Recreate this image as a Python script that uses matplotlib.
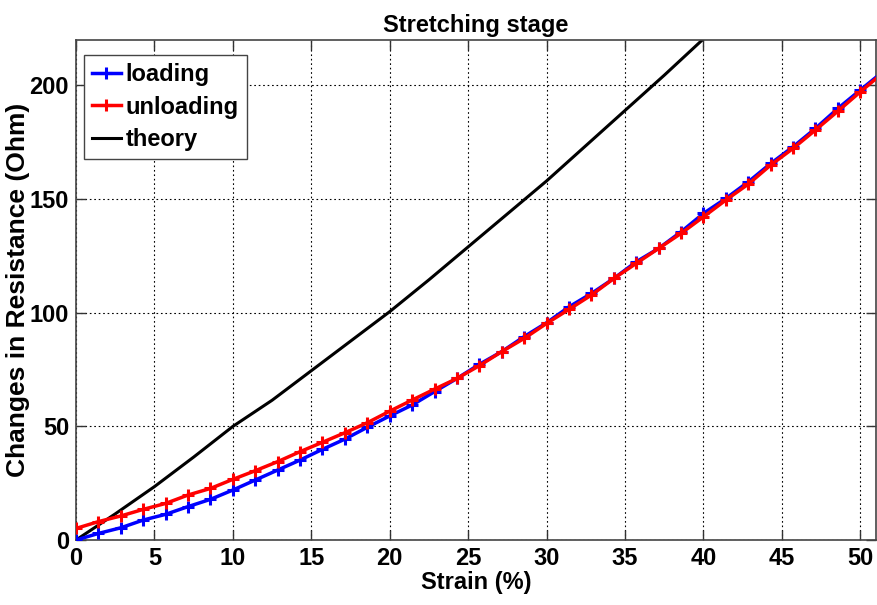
import matplotlib
matplotlib.use("Agg")
import matplotlib.pyplot as plt

STRAIN = [0.0, 1.43, 2.86, 4.29, 5.71, 7.14, 8.57, 10.0, 11.43, 12.86, 14.29, 15.71,
          17.14, 18.57, 20.0, 21.43, 22.86, 24.29, 25.71, 27.14, 28.57, 30.0, 31.43,
          32.86, 34.29, 35.71, 37.14, 38.57, 40.0, 41.43, 42.86, 44.29, 45.71, 47.14,
          48.57, 50.0, 51.43]
LOADING = [0.0, 2.9, 5.4, 8.8, 11.3, 14.7, 17.9, 22.0, 26.4, 30.8, 35.2, 39.9,
           44.4, 49.6, 54.6, 59.4, 65.3, 71.1, 77.3, 82.9, 89.5, 95.6, 102.6,
           108.5, 115.1, 122.4, 128.3, 135.6, 143.7, 150.3, 157.6, 165.7, 173.0, 181.1,
           189.9, 198.0, 206.0]
UNLOADING = [5.1, 8.1, 10.6, 13.5, 16.1, 19.8, 22.7, 26.7, 30.5, 34.5, 38.9, 43.0,
             47.2, 51.6, 56.7, 61.6, 66.4, 71.1, 76.7, 82.9, 88.7, 95.3, 101.5,
             107.8, 115.1, 121.7, 128.3, 134.9, 142.2, 149.6, 156.6, 165.0, 172.3, 180.4,
             188.7, 197.2, 205.5]
THEORY_X = [0.0, 2.5, 5.0, 7.5, 10.0, 12.5, 15.0, 17.5, 20.0, 22.5, 25.0, 27.5,
            30.0, 32.5, 35.0, 37.5, 40.0, 42.5]
THEORY_Y = [0.0, 11.5, 23.5, 36.5, 50.0, 61.5, 74.5, 87.5, 100.5, 114.5, 129.0, 143.5,
            158.0, 173.5, 189.0, 204.5, 220.5, 237.0]

XTICKS = list(range(0, 51, 5))
YTICKS = [0, 50, 100, 150, 200]

plt.rcParams["font.family"] = "Liberation Sans"
plt.rcParams["font.weight"] = "bold"

fig = plt.figure(figsize=(8.77, 6.05), dpi=100)
ax = fig.add_axes([0.0867, 0.1074, 0.9122, 0.8265])

ax.plot(STRAIN, LOADING, color="blue", lw=2.5, marker="+", ms=9, mew=2.2, label="loading", zorder=3)
ax.plot(STRAIN, UNLOADING, color="red", lw=2.5, marker="+", ms=9, mew=2.2, label="unloading", zorder=4)
ax.plot(THEORY_X, THEORY_Y, color="black", lw=2.2, label="theory", zorder=2)

ax.set_xlim(0, 51)
ax.set_ylim(0, 220)
ax.set_xticks(XTICKS)
ax.set_yticks(YTICKS)
ax.grid(True, color="black", ls=(0, (1.5, 2.5)), lw=0.8)
ax.set_axisbelow(True)
ax.tick_params(direction="in", length=7, width=1, top=True, right=True, color="#333333",
               pad=5, labelsize=17)
for s in ax.spines.values():
    s.set_color("#444444")
    s.set_linewidth(1.2)

ax.set_title("Stretching stage", fontweight="bold", fontsize=17, pad=6)
ax.set_xlabel("Strain (%)", fontweight="bold", fontsize=17, labelpad=1)
ax.set_ylabel("Changes in Resistance (Ohm)", fontweight="bold", fontsize=19, labelpad=0)

leg = ax.legend(loc="upper left", bbox_to_anchor=(0.01, 0.97), prop={"weight": "bold", "size": 17},
                fancybox=False, framealpha=1, edgecolor="#444444", handlelength=1.2, handletextpad=0.2,
                borderpad=0.35, labelspacing=0.4, borderaxespad=0)
leg.get_frame().set_linewidth(1.0)

fig.savefig("out.png", dpi=100)
